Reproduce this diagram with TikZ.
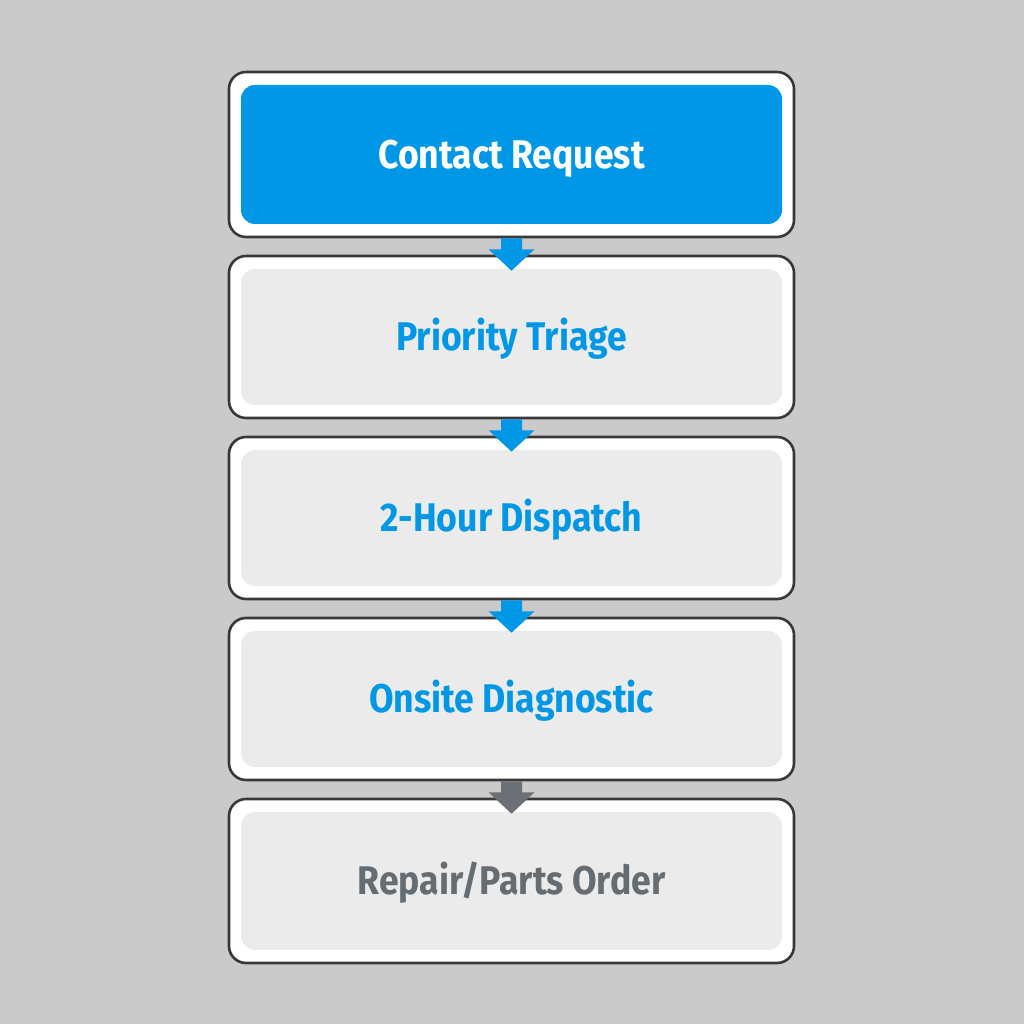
\documentclass[tikz,border=0pt]{standalone}
\usepackage{fontspec}
\setmainfont{Fira Sans}[FakeStretch=0.89]
\usetikzlibrary{calc}
\definecolor{bg}{HTML}{CACACA}
\definecolor{bordc}{HTML}{383838}
\definecolor{bluec}{HTML}{0097E6}
\definecolor{innerc}{HTML}{EBEBEB}
\definecolor{greyt}{HTML}{656C72}
\definecolor{greya}{HTML}{6A7076}
\tikzset{
  outerbox/.style={draw=bordc, line width=2.6pt, fill=white, rounded corners=17pt,
     minimum width=565pt, inner sep=0pt},
  innerbox/.style={rounded corners=14pt, minimum width=541pt, inner sep=0pt,
     text height=27.5pt, text depth=0pt,
     font=\fontsize{40}{46}\selectfont\bfseries},
}
\newcommand{\flowarr}[3]{%
  \fill[#3] ([xshift=-10.5pt]#1.south) -- ([xshift=-10.5pt,yshift=-11pt]#1.south)
    -- ([xshift=-23pt,yshift=-11pt]#1.south) -- ([yshift=-16pt]#2.north)
    -- ([xshift=23pt,yshift=-11pt]#1.south) -- ([xshift=10.5pt,yshift=-11pt]#1.south)
    -- ([xshift=10.5pt]#1.south) -- cycle;}
\begin{document}
\begin{tikzpicture}[x=1pt,y=1pt]
\fill[bg] (0,0) rectangle (1024,1024);
\useasboundingbox (0,0) rectangle (1024,1024);
% boxes
\node[outerbox, minimum height=165pt] (b1) at (511.5,869.5) {};
\node[innerbox, fill=bluec, text=white, minimum height=139pt] (t1) at (b1.center) {Contact Request};
\node[outerbox, minimum height=162pt] (b2) at (511.5,687) {};
\node[innerbox, fill=innerc, text=bluec, minimum height=136pt] (t2) at (b2.center) {Priority Triage};
\node[outerbox, minimum height=162pt] (b3) at (511.5,506) {};
\node[innerbox, fill=innerc, text=bluec, minimum height=136pt] (t3) at (b3.center) {2-Hour Dispatch};
\node[outerbox, minimum height=162pt] (b4) at (511.5,325) {};
\node[innerbox, fill=innerc, text=bluec, minimum height=136pt] (t4) at (b4.center) {Onsite Diagnostic};
\node[outerbox, minimum height=164pt] (b5) at (511.5,143) {};
\node[innerbox, fill=innerc, text=greyt, minimum height=138pt] (t5) at (b5.center) {Repair/Parts Order};
% arrows
\flowarr{b1}{b2}{fill=bluec}
\flowarr{b2}{b3}{fill=bluec}
\flowarr{b3}{b4}{fill=bluec}
\flowarr{b4}{b5}{fill=greya}
\end{tikzpicture}
\end{document}
